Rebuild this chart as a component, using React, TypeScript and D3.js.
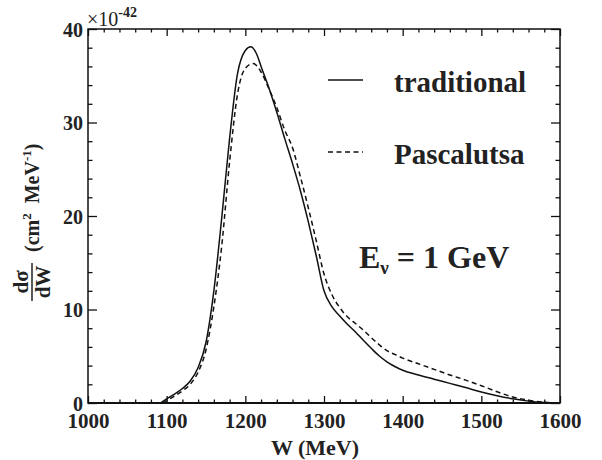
import { useEffect, useRef } from "react";
import * as d3 from "d3";

// W in MeV, dσ/dW in units of 1e-42 cm^2/MeV
const tradW = [1092, 1100, 1110, 1120, 1130, 1140, 1150, 1160, 1170, 1180, 1190, 1200, 1207, 1215, 1220, 1230, 1240, 1250, 1260, 1270, 1280, 1290, 1300, 1310, 1320, 1330, 1340, 1350, 1360, 1370, 1380, 1390, 1400, 1420, 1440, 1460, 1480, 1500, 1520, 1540, 1560, 1580, 1590];
const tradVal = [0, 0.45, 0.95, 1.55, 2.35, 3.8, 6.5, 12.0, 19.8, 28.3, 35.2, 37.7, 38.1, 37.2, 36.0, 33.7, 31.1, 28.3, 25.6, 22.7, 19.4, 15.8, 12.0, 10.3, 9.3, 8.4, 7.6, 6.7, 5.85, 5.05, 4.4, 3.9, 3.5, 3.0, 2.55, 2.1, 1.65, 1.17, 0.78, 0.45, 0.2, 0.05, 0];

const pascW = [1095, 1100, 1110, 1120, 1130, 1140, 1150, 1160, 1170, 1180, 1190, 1200, 1210, 1220, 1230, 1240, 1250, 1260, 1270, 1280, 1290, 1300, 1310, 1320, 1330, 1340, 1350, 1360, 1370, 1380, 1390, 1400, 1420, 1440, 1460, 1480, 1500, 1520, 1540, 1560, 1580, 1590];
const pascVal = [0, 0.25, 0.75, 1.3, 2.0, 3.3, 5.7, 10.3, 16.8, 25.8, 33.0, 35.8, 36.3, 35.4, 33.6, 31.6, 29.2, 27.3, 24.2, 20.9, 17.4, 13.8, 11.6, 10.2, 9.2, 8.5, 7.8, 7.0, 6.25, 5.6, 5.2, 4.8, 4.2, 3.6, 3.0, 2.45, 1.85, 1.2, 0.65, 0.3, 0.08, 0];

const xMajor = [1000, 1100, 1200, 1300, 1400, 1500, 1600];
const yMajor = [0, 10, 20, 30, 40];
const legendNames = ["traditional", "Pascalutsa"];

export default function App() {
  const svgRef = useRef<SVGSVGElement>(null);

  useEffect(() => {
    const w = 602, h = 460;
    const left = 88, right = 560, top = 29, bottom = 403;
    const svg = d3.select(svgRef.current);
    svg.selectAll("*").remove();
    svg.attr("width", w).attr("height", h).style("background", "#fff");

    const x = d3.scaleLinear().domain([1000, 1600]).range([left, right]);
    const y = d3.scaleLinear().domain([0, 40]).range([bottom, top]);

    const xMinor = d3.range(1000, 1601, 20).filter((v) => v % 100 !== 0);
    const yMinor = d3.range(0, 41, 2).filter((v) => v % 10 !== 0);
    const font = "'Liberation Serif', 'Times New Roman', serif";

    const styleAxis = (g: any) => {
      g.select(".domain").remove();
      g.selectAll("line").attr("stroke", "#111").attr("stroke-width", 1.3);
      g.selectAll("text")
        .attr("font-family", font)
        .attr("font-weight", "bold")
        .attr("fill", "#222");
    };

    // bottom
    svg.append("g").attr("transform", `translate(0,${bottom})`)
      .call(d3.axisBottom(x).tickValues(xMajor).tickSize(-7).tickPadding(10).tickSizeOuter(0).tickFormat(d3.format("d")))
      .call(styleAxis)
      .call((g: any) => g.selectAll("text").attr("font-size", 21));
    svg.append("g").attr("transform", `translate(0,${bottom})`)
      .call(d3.axisBottom(x).tickValues(xMinor).tickSize(-3.5).tickFormat(() => "").tickSizeOuter(0))
      .call(styleAxis);
    // top
    svg.append("g").attr("transform", `translate(0,${top})`)
      .call(d3.axisTop(x).tickValues(xMajor).tickSize(-7).tickFormat(() => "").tickSizeOuter(0))
      .call(styleAxis);
    svg.append("g").attr("transform", `translate(0,${top})`)
      .call(d3.axisTop(x).tickValues(xMinor).tickSize(-3.5).tickFormat(() => "").tickSizeOuter(0))
      .call(styleAxis);
    // left
    svg.append("g").attr("transform", `translate(${left},0)`)
      .call(d3.axisLeft(y).tickValues(yMajor).tickSize(-9).tickPadding(5).tickSizeOuter(0))
      .call(styleAxis)
      .call((g: any) => g.selectAll("text").attr("font-size", 20).attr("dy", "0.36em"));
    svg.append("g").attr("transform", `translate(${left},0)`)
      .call(d3.axisLeft(y).tickValues(yMinor).tickSize(-4.5).tickFormat(() => "").tickSizeOuter(0))
      .call(styleAxis);
    // right
    svg.append("g").attr("transform", `translate(${right},0)`)
      .call(d3.axisRight(y).tickValues(yMajor).tickSize(-9).tickFormat(() => "").tickSizeOuter(0))
      .call(styleAxis);
    svg.append("g").attr("transform", `translate(${right},0)`)
      .call(d3.axisRight(y).tickValues(yMinor).tickSize(-4.5).tickFormat(() => "").tickSizeOuter(0))
      .call(styleAxis);

    // frame
    svg.append("rect")
      .attr("x", left).attr("y", top)
      .attr("width", right - left).attr("height", bottom - top)
      .attr("fill", "none").attr("stroke", "#111").attr("stroke-width", 1.5);
    svg.append("line")
      .attr("x1", left).attr("x2", right).attr("y1", bottom).attr("y2", bottom)
      .attr("stroke", "#111").attr("stroke-width", 2.2);

    const line = d3.line<[number, number]>()
      .x((d) => x(d[0]))
      .y((d) => y(d[1]))
      .curve(d3.curveMonotoneX);

    svg.append("path")
      .attr("d", line(tradW.map((v, i) => [v, tradVal[i]]) as [number, number][]))
      .attr("fill", "none").attr("stroke", "#111").attr("stroke-width", 1.5);
    svg.append("path")
      .attr("d", line(pascW.map((v, i) => [v, pascVal[i]]) as [number, number][]))
      .attr("fill", "none").attr("stroke", "#111").attr("stroke-width", 1.5)
      .attr("stroke-dasharray", "5,3.5");

    // legend
    const leg = [{ y: 80, dash: null }, { y: 152, dash: "5,3.5" }];
    leg.forEach((l, i) => {
      svg.append("line")
        .attr("x1", 328).attr("x2", 363).attr("y1", l.y).attr("y2", l.y)
        .attr("stroke", "#111").attr("stroke-width", 1.5)
        .attr("stroke-dasharray", l.dash);
      svg.append("text")
        .attr("x", 394).attr("y", l.y + 12)
        .attr("font-family", font).attr("font-weight", "bold").attr("font-size", 29)
        .attr("fill", "#222")
        .text(legendNames[i]);
    });

    // E_nu label
    const e = svg.append("text")
      .attr("x", 359).attr("y", 268)
      .attr("font-family", font).attr("font-weight", "bold").attr("font-size", 32)
      .attr("fill", "#222");
    e.append("tspan").text("E");
    e.append("tspan").attr("font-size", 19).attr("dy", 6).text("ν");
    e.append("tspan").attr("dy", -6).text(" = 1 GeV");

    // exponent
    const ex = svg.append("text")
      .attr("x", 87).attr("y", 26)
      .attr("font-family", font).attr("font-size", 20).attr("fill", "#222");
    ex.append("tspan").text("×10");
    ex.append("tspan").attr("font-size", 14).attr("font-weight", "bold").attr("dy", -9).text("-42");

    // x title
    svg.append("text")
      .attr("x", 315).attr("y", 455)
      .attr("text-anchor", "middle")
      .attr("font-family", font).attr("font-weight", "bold").attr("font-size", 22)
      .attr("fill", "#222")
      .text("W (MeV)");

    // y title: fraction dσ/dW then (cm² MeV⁻¹)
    const fy = 282;
    svg.append("text")
      .attr("transform", `translate(28,${fy}) rotate(-90)`)
      .attr("text-anchor", "middle")
      .attr("font-family", font).attr("font-weight", "bold").attr("font-size", 21)
      .attr("fill", "#222").text("dσ");
    svg.append("line")
      .attr("x1", 32).attr("x2", 32).attr("y1", 263).attr("y2", 301)
      .attr("stroke", "#222").attr("stroke-width", 1.5);
    svg.append("text")
      .attr("transform", `translate(50,${fy}) rotate(-90)`)
      .attr("text-anchor", "middle")
      .attr("font-family", font).attr("font-weight", "bold").attr("font-size", 21)
      .attr("fill", "#222").text("dW");

    const u = svg.append("text")
      .attr("transform", `translate(39,252) rotate(-90)`)
      .attr("font-family", font).attr("font-weight", "bold").attr("font-size", 20)
      .attr("fill", "#222");
    u.append("tspan").text("(cm");
    u.append("tspan").attr("font-size", 13).attr("dy", -8).text("2");
    u.append("tspan").attr("dy", 8).text("\u00a0 MeV");
    u.append("tspan").attr("font-size", 13).attr("dy", -8).text("-1");
    u.append("tspan").attr("dy", 8).text(")");
  }, []);

  return (
    <svg ref={svgRef} style={{ position: "absolute", left: 0, top: 0, display: "block" }}></svg>
  );
}
